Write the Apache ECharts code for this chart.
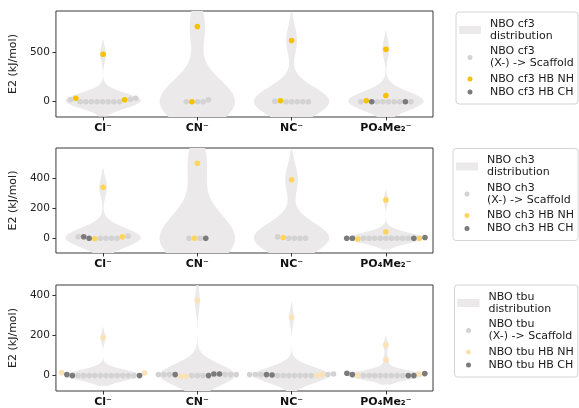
<!DOCTYPE html>
<html><head><meta charset="utf-8">
<script src="https://cdn.jsdelivr.net/npm/echarts@6/dist/echarts.min.js"></script>
<style>html,body{margin:0;padding:0;background:#fff}#c{width:579px;height:408px}</style>
</head><body><div id="c"></div>
<script>
// ---------- data ----------
const categories = ['Cl⁻', 'CN⁻', 'NC⁻', 'PO₄Me₂⁻'];
const panelKeys = ['cf3', 'ch3', 'tbu'];
const yTicks_cf3 = [0, 500];
const yTicks_ch3 = [0, 200, 400];
const yTicks_tbu = [0, 200, 400];
// group codes: S = (X-) -> Scaffold, N = HB NH, C = HB CH
const cf3_Cl_values = [20, 35, 0, 0, 0, 0, 0, 0, 0, 0, 20, 25, 35, 480];
const cf3_Cl_groups = 'SNSSSSSSSSNSSN';
const cf3_CN_values = [0, 0, 0, 0, 20, 760];
const cf3_CN_groups = 'SNSSSN';
const cf3_NC_values = [5, 10, 0, 0, 0, 0, 0, 620];
const cf3_NC_groups = 'SNSSSSSN';
const cf3_PO4_values = [0, 10, 0, 0, 0, 0, 0, 0, 0, 0, 63, 530];
const cf3_PO4_groups = 'SNCSSSSSCSNN';

const ch3_Cl_values = [10, 10, 0, -3, 0, 0, 0, 0, 10, 15, 340];
const ch3_Cl_groups = 'SCCNSSSSNSN';
const ch3_CN_values = [0, 0, 0, 0, 500];
const ch3_CN_groups = 'SNSCN';
const ch3_NC_values = [10, 5, 0, 0, 0, 0, 390];
const ch3_NC_groups = 'SNSSSSN';
const ch3_PO4_values = [0, 0, -5, 0, 0, 0, 0, 0, 0, 0, 0, 0, 0, 0, 5, 44, 255];
const ch3_PO4_groups = 'CCNSSSSSSSSSCNCNN';

const tbu_Cl_values = [15, 5, 0, 0, 0, 0, 0, 0, 0, 0, 0, 0, 0, 0, 0, 13, 190];
const tbu_Cl_groups = 'NCCSSSSSSSSSSSCNN';
const tbu_CN_values = [5, 5, 5, 5, -3, -3, 0, 0, 0, 0, 8, 8, 5, 5, 5, 375];
const tbu_CN_groups = 'SSSCNNSSSCCCSSSN';
const tbu_NC_values = [5, 5, 5, 5, 3, 0, 0, 0, 0, 0, 0, 0, 0, 5, 5, 8, 290];
const tbu_NC_groups = 'SSSCCSSSSSSSNNSSN';
const tbu_PO4_values = [12, 5, 0, 0, 0, 0, 0, 0, 0, 0, 0, 0, 0, 8, 10, 79, 153];
const tbu_PO4_groups = 'CCNSSSSSSSSCCNCNN';

// ---------- config ----------
const panels = [
  {key: 'cf3', ticks: yTicks_cf3, range: [-155, 918], top: 11, height: 106, nh: '#f5c100', legendLeft: 456, legendTop: 12,
   cats: [[cf3_Cl_values, cf3_Cl_groups], [cf3_CN_values, cf3_CN_groups], [cf3_NC_values, cf3_NC_groups], [cf3_PO4_values, cf3_PO4_groups]]},
  {key: 'ch3', ticks: yTicks_ch3, range: [-98, 602], top: 148, height: 105, nh: '#ffd45f', legendLeft: 453, legendTop: 148.5,
   cats: [[ch3_Cl_values, ch3_Cl_groups], [ch3_CN_values, ch3_CN_groups], [ch3_NC_values, ch3_NC_groups], [ch3_PO4_values, ch3_PO4_groups]]},
  {key: 'tbu', ticks: yTicks_tbu, range: [-77, 453], top: 285, height: 106, nh: '#fbe2b6', legendLeft: 454.5, legendTop: 285,
   cats: [[tbu_Cl_values, tbu_Cl_groups], [tbu_CN_values, tbu_CN_groups], [tbu_NC_values, tbu_NC_groups], [tbu_PO4_values, tbu_PO4_groups]]}
];
const violinColor = '#ebe9e9';
const scaffoldColor = '#d3d3d3';
const chColor = '#7b7b7b';
const font = 'DejaVu Sans';
const dotSize = 5.6;
const circIcon = 'path://M0,0L0,0M22,8L22,8M8.5,4A2.5,2.5,0,1,0,13.5,4A2.5,2.5,0,1,0,8.5,4Z';

function violinProfile(vals, yMin, yMax) {
  const n = vals.length;
  const mean = vals.reduce((a, b) => a + b, 0) / n;
  const sd = Math.sqrt(vals.reduce((a, b) => a + (b - mean) * (b - mean), 0) / (n - 1));
  const bw = sd * Math.pow(n, -0.2);
  const lo = Math.min(...vals) - 2 * bw, hi = Math.max(...vals) + 2 * bw;
  const dens = y => vals.reduce((s, v) => s + Math.exp(-0.5 * ((y - v) / bw) ** 2), 0);
  let mx = 0;
  for (let k = 0; k <= 300; k++) mx = Math.max(mx, dens(lo + (hi - lo) * k / 300));
  const a = Math.max(lo, yMin), b = Math.min(hi, yMax);
  const prof = [];
  for (let k = 0; k <= 300; k++) {
    const y = a + (b - a) * k / 300;
    prof.push([y, 0.4 * dens(y) / mx]);
  }
  return prof;
}

const names = p => ({
  dist: 'NBO ' + p.key + '\ndistribution',
  S: 'NBO ' + p.key + '\n(X-) -> Scaffold',
  N: 'NBO ' + p.key + ' HB NH',
  C: 'NBO ' + p.key + ' HB CH'
});

const option = {
  animation: false,
  backgroundColor: '#fff',
  grid: [], xAxis: [], yAxis: [], series: [], legend: []
};

panels.forEach((p, pi) => {
  const nm = names(p);
  option.grid.push({left: 53, right: 146, top: p.top, height: p.height, show: true,
    borderColor: '#3a3a3a', borderWidth: 1, backgroundColor: 'transparent'});
  option.xAxis.push({type: 'value', gridIndex: pi, min: -0.5, max: 3.5, position: 'bottom',
    axisLine: {show: false, onZero: false}, splitLine: {show: false},
    axisTick: {show: true, customValues: [0, 1, 2, 3], length: 3.5, lineStyle: {color: '#333'}},
    axisLabel: {customValues: [0, 1, 2, 3], formatter: v => categories[Math.round(v)],
      fontFamily: font, fontWeight: 'bold', fontSize: 11, color: '#111', margin: 5.5}});
  option.yAxis.push({type: 'value', gridIndex: pi, min: p.range[0], max: p.range[1], position: 'left',
    axisLine: {show: false, onZero: false}, splitLine: {show: false},
    axisTick: {show: true, customValues: p.ticks, length: 3.5, lineStyle: {color: '#333'}},
    axisLabel: {customValues: p.ticks, fontFamily: font, fontSize: 10.5, color: '#222', margin: 6},
    name: 'E2 (kJ/mol)', nameLocation: 'middle', nameGap: 31,
    nameTextStyle: {fontFamily: font, fontSize: 11, color: '#222'}});
  const profiles = p.cats.map(c => violinProfile(c[0], p.range[0], p.range[1]));
  option.series.push({
    type: 'custom', name: nm.dist, xAxisIndex: pi, yAxisIndex: pi, z: 1, silent: true, clip: true,
    itemStyle: {color: violinColor},
    data: categories.map((c, ci) => [ci, 0]),
    encode: {x: 0, y: 1},
    renderItem: function (params, api) {
      const ci = api.value(0);
      const prof = profiles[ci];
      const pts = [];
      for (let k = 0; k < prof.length; k++) pts.push(api.coord([ci + prof[k][1], prof[k][0]]));
      for (let k = prof.length - 1; k >= 0; k--) pts.push(api.coord([ci - prof[k][1], prof[k][0]]));
      return {type: 'polygon', shape: {points: pts}, style: {fill: violinColor}};
    }
  });
  [['S', scaffoldColor, 2], ['N', p.nh, 3], ['C', chColor, 4]].forEach(([g, col, z]) => {
    option.series.push({type: 'scatter', name: nm[g], xAxisIndex: pi, yAxisIndex: pi, z: z,
      symbolSize: dotSize, itemStyle: {color: col, opacity: 1}, silent: true, data: [], _grp: g, _panel: pi});
  });
  option.legend.push({
    orient: 'vertical', left: p.legendLeft, top: p.legendTop, itemWidth: 22, itemHeight: 8, itemGap: 1,
    selectedMode: false, borderColor: '#d4d4d4', borderWidth: 1, borderRadius: 3, padding: [6, 4, 6, 3],
    backgroundColor: '#fff',
    textStyle: {fontFamily: font, fontSize: 11, lineHeight: 12, color: '#1a1a1a', padding: [0, 0, 0, 4]},
    data: [
      {name: nm.dist, icon: 'rect'},
      {name: nm.S, icon: circIcon, textStyle: {padding: [0, 0, 5, 4]}},
      {name: nm.N, icon: circIcon},
      {name: nm.C, icon: circIcon}
    ]
  });
});

const chart = echarts.init(document.getElementById('c'));
chart.setOption(option);

// ---------- beeswarm layout (pixel space) ----------
function swarm(ys, d) {
  const n = ys.length;
  const col = (i, j) => Math.abs(ys[i] - ys[j]) < d;
  const inChain = ys.map((y, i) => (i > 0 && col(i, i - 1)) || (i < n - 1 && col(i, i + 1)));
  const xs = new Array(n).fill(0);
  const chain = [];
  let cursor = 0;
  for (let i = 0; i < n; i++) {
    if (!inChain[i]) continue;
    let x = chain.length ? cursor : 0;
    for (const j of chain) {
      const dy = ys[i] - ys[j];
      if (Math.abs(dy) < d) x = Math.max(x, xs[j] + Math.sqrt(d * d - dy * dy));
    }
    xs[i] = x; cursor = x; chain.push(i);
  }
  if (chain.length) {
    const v = chain.map(i => xs[i]);
    const c = (Math.min(...v) + Math.max(...v)) / 2;
    chain.forEach(i => { xs[i] -= c; });
  }
  const placed = chain.slice();
  for (let i = 0; i < n; i++) {
    if (inChain[i]) continue;
    const cands = [0];
    for (const j of placed) {
      const dy = ys[i] - ys[j];
      if (Math.abs(dy) < d) { const dx = Math.sqrt(d * d - dy * dy); cands.push(xs[j] - dx, xs[j] + dx); }
    }
    cands.sort((a, b) => Math.abs(a) - Math.abs(b));
    let chosen = cands[0];
    for (const c of cands) {
      let ok = true;
      for (const j of placed) {
        const dx = c - xs[j], dy = ys[i] - ys[j];
        if (dx * dx + dy * dy < d * d - 1e-6) { ok = false; break; }
      }
      if (ok) { chosen = c; break; }
    }
    xs[i] = chosen; placed.push(i);
  }
  return xs;
}

const scatterData = {};
panels.forEach((p, pi) => {
  const finder = {xAxisIndex: pi, yAxisIndex: pi};
  const px0 = chart.convertToPixel(finder, [0, 0]);
  const px1 = chart.convertToPixel(finder, [1, 0]);
  const pxPerX = px1[0] - px0[0];
  const groups = {S: [], N: [], C: []};
  p.cats.forEach(([vals, grp], ci) => {
    const ys = vals.map(v => chart.convertToPixel(finder, [ci, v])[1]);
    const xs = swarm(ys, dotSize);
    vals.forEach((v, k) => groups[grp[k]].push([ci + xs[k] / pxPerX, v]));
  });
  scatterData[pi] = groups;
});
option.series.forEach(s => {
  if (s.type === 'scatter') s.data = scatterData[s._panel][s._grp];
});
chart.setOption({series: option.series.map(s => s.type === 'scatter' ? {data: s.data} : {})});
</script></body></html>
